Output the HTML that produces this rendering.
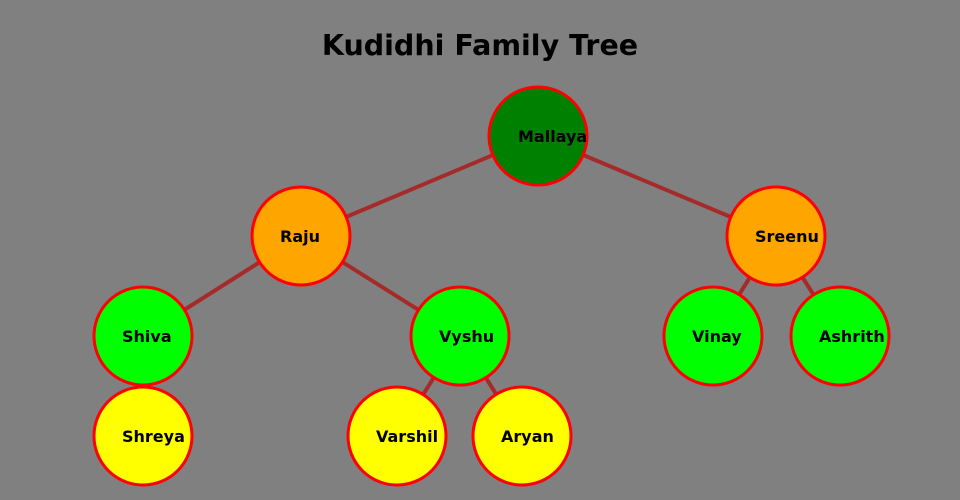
<!DOCTYPE html>
<html><head><meta charset="utf-8"><style>
html,body{margin:0;padding:0;background:#808080;}
svg{display:block}
text{font-family:"DejaVu Sans","Liberation Sans",sans-serif;font-weight:bold;fill:#000}
</style></head><body>
<svg width="960" height="500" viewBox="0 0 960 500">
<rect width="960" height="500" fill="#808080"/>
<text x="480" y="55" text-anchor="middle" style="font-size:28.5px">Kudidhi Family Tree</text>
<g stroke="#a52a2a" stroke-width="4">
<line x1="538" y1="136" x2="301" y2="236"/>
<line x1="538" y1="136" x2="776" y2="236"/>
<line x1="301" y1="236" x2="143" y2="336"/>
<line x1="301" y1="236" x2="460" y2="336"/>
<line x1="776" y1="236" x2="713" y2="336"/>
<line x1="776" y1="236" x2="840" y2="336"/>
<line x1="143" y1="336" x2="143" y2="436"/>
<line x1="460" y1="336" x2="397" y2="436"/>
<line x1="460" y1="336" x2="522" y2="436"/>
</g>
<g stroke="#ff0000" stroke-width="3">
<circle cx="538" cy="136" r="49" fill="#008000"/>
<circle cx="301" cy="236" r="49" fill="#ffa500"/>
<circle cx="776" cy="236" r="49" fill="#ffa500"/>
<circle cx="143" cy="336" r="49" fill="#00ff00"/>
<circle cx="460" cy="336" r="49" fill="#00ff00"/>
<circle cx="713" cy="336" r="49" fill="#00ff00"/>
<circle cx="840" cy="336" r="49" fill="#00ff00"/>
<circle cx="143" cy="436" r="49" fill="#ffff00"/>
<circle cx="397" cy="436" r="49" fill="#ffff00"/>
<circle cx="522" cy="436" r="49" fill="#ffff00"/>
</g>
<g style="font-size:16px">
<text x="518" y="142">Mallaya</text>
<text x="280" y="242">Raju</text>
<text x="755" y="242">Sreenu</text>
<text x="122" y="342">Shiva</text>
<text x="439" y="342">Vyshu</text>
<text x="692" y="342">Vinay</text>
<text x="819" y="342">Ashrith</text>
<text x="122" y="442">Shreya</text>
<text x="376" y="442">Varshil</text>
<text x="501" y="442">Aryan</text>
</g>
</svg>
</body></html>
